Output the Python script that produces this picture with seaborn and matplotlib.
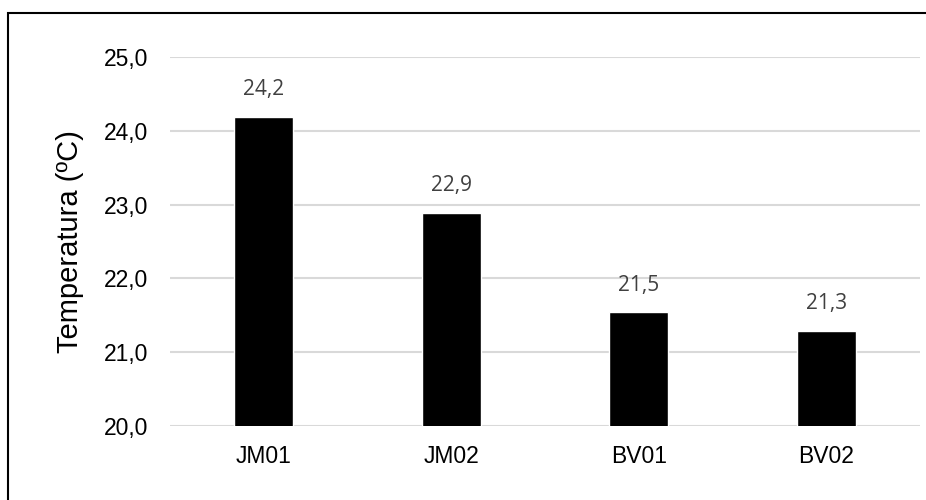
import matplotlib
matplotlib.use("Agg")
import matplotlib.pyplot as plt
from matplotlib.patches import Rectangle
import seaborn as sns
import pandas as pd

# Mean temperature per sampling station
stations = ["JM01", "JM02", "BV01", "BV02"]
temperatures = [24.19, 22.89, 21.54, 21.29]
y_ticks = [20.0, 21.0, 22.0, 23.0, 24.0, 25.0]
y_label = "Temperatura (ºC)"

sns.set_theme(style="white")
plt.rcParams["font.family"] = ["Liberation Sans", "DejaVu Sans"]

df = pd.DataFrame({"estacao": stations, "temperatura": temperatures})

fig = plt.figure(figsize=(9.26, 5.0), dpi=100)
ax = fig.add_axes([170 / 926, 74 / 500, 750 / 926, 369 / 500])

sns.barplot(data=df, x="estacao", y="temperatura", color="black",
            saturation=1, width=0.315, ax=ax, zorder=3)

ax.set_ylim(y_ticks[0], y_ticks[-1])
ax.set_yticks(y_ticks)
ax.set_yticklabels([f"{t:.1f}".replace(".", ",") for t in y_ticks])
ax.yaxis.grid(True, color="#d9d9d9", linewidth=1.5, zorder=0)
ax.set_axisbelow(True)
for s in ax.spines.values():
    s.set_visible(False)
ax.tick_params(axis="both", length=0, labelsize=16.5, colors="black")
ax.tick_params(axis="y", pad=16)
ax.tick_params(axis="x", pad=14)
ax.set_xlabel("")
ax.set_ylabel(y_label, fontsize=21, labelpad=14, color="black")

# Value labels above each bar
for patch, val in zip(ax.patches, temperatures):
    ax.annotate(f"{val:.1f}".replace(".", ","),
                xy=(patch.get_x() + patch.get_width() / 2, patch.get_height()),
                xytext=(0, 19.5), textcoords="offset points",
                ha="center", va="center", fontsize=15,
                color="#404040", family=["Open Sans", "DejaVu Sans"])

# Outer frame of the chart area
fig.patches.append(Rectangle((7.5 / 926, -0.1), 1.2, (500 - 12.5) / 500 + 0.1,
                             transform=fig.transFigure, fill=False,
                             edgecolor="black", linewidth=1.5, zorder=10))

fig.savefig("out.png", dpi=100)
